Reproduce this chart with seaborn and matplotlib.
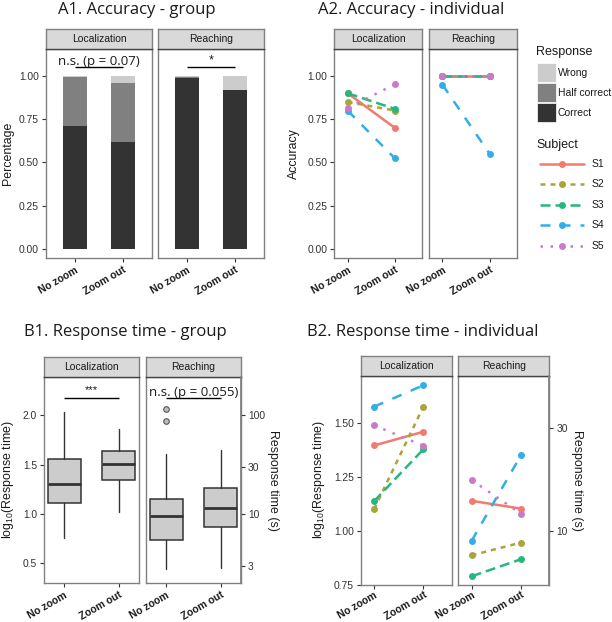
import matplotlib

matplotlib.use("Agg")
import matplotlib.pyplot as plt
import numpy as np
import pandas as pd
import seaborn as sns

W, H = 612, 622

TASKS = ["Localization", "Reaching"]
CONDITIONS = ["No zoom", "Zoom out"]
SUBJECTS = ["S1", "S2", "S3", "S4", "S5"]
RESPONSES = ["Wrong", "Half correct", "Correct"]

# A1: proportion of responses per condition (No zoom, Zoom out)
loc_correct = [0.713, 0.619]
loc_half = [0.281, 0.343]
loc_wrong = [0.006, 0.038]
rea_correct = [0.990, 0.919]
rea_half = [0.005, 0.000]
rea_wrong = [0.005, 0.081]

# A2: accuracy per subject (S1..S5)
acc_loc_nozoom = [0.90, 0.85, 0.90, 0.80, 0.815]
acc_loc_zoomout = [0.70, 0.80, 0.81, 0.524, 0.952]
acc_rea_nozoom = [1.00, 1.00, 1.00, 0.95, 1.00]
acc_rea_zoomout = [1.00, 1.00, 1.00, 0.549, 1.00]

# B1: log10 response time box stats (whislo, q1, med, q3, whishi)
rt_loc_nozoom = [0.758, 1.114, 1.304, 1.555, 2.034]
rt_loc_zoomout = [1.018, 1.348, 1.504, 1.636, 1.864]
rt_rea_nozoom = [0.438, 0.733, 0.978, 1.148, 1.609]
rt_rea_zoomout = [0.452, 0.873, 1.056, 1.267, 1.647]
rt_rea_nozoom_outliers = [2.064, 1.942]

# B2: mean log10 response time per subject
rt_subj_loc_nozoom = [1.395, 1.100, 1.137, 1.574, 1.488]
rt_subj_loc_zoomout = [1.458, 1.574, 1.377, 1.673, 1.394]
rt_subj_rea_nozoom = [1.139, 0.887, 0.790, 0.954, 1.235]
rt_subj_rea_zoomout = [1.103, 0.946, 0.869, 1.349, 1.080]

RESPONSE_COLORS = {"Wrong": "#cccccc", "Half correct": "#808080", "Correct": "#333333"}
SUBJECT_COLORS = dict(zip(SUBJECTS, ["#F27A6E", "#A8A53A", "#27B77E", "#31AEE8", "#C97AC8"]))
SUBJECT_DASHES = dict(zip(SUBJECTS, ["", (2, 2), (4, 2), (4, 4), (1, 3)]))
SUBJECT_MARKERS = dict(zip(SUBJECTS, ["o"] * 5))

TITLE_FONT = "Open Sans"
AXIS_FONT = "Liberation Sans"
BORDER = "#808080"
INK = "#333333"

sns.set_theme(style="white")
plt.rcParams["font.family"] = [AXIS_FONT, "DejaVu Sans"]
plt.rcParams["mathtext.default"] = "regular"

fig = plt.figure(figsize=(W / 100, H / 100), dpi=100)
fig.patch.set_facecolor("white")


def px_axes(x0, y0, x1, y1):
    return fig.add_axes([x0 / W, 1 - y1 / H, (x1 - x0) / W, (y1 - y0) / H])


def fig_text(x, y, s, **kw):
    fig.text(x / W, 1 - y / H, s, **kw)


def add_strip(x0, x1, y0, y1, label):
    s = px_axes(x0, y0, x1, y1)
    s.set_facecolor("#d9d9d9")
    s.set_xticks([])
    s.set_yticks([])
    for sp in s.spines.values():
        sp.set_color(BORDER)
        sp.set_linewidth(1.0)
    s.spines["bottom"].set_color("#444444")
    s.text(0.5, 0.5, label, ha="center", va="center", fontsize=7.5, color="#1a1a1a",
           transform=s.transAxes)


def style_panel(ax, xlim, ylim, yticks, ylabels, show_y, xpad=2):
    ax.set_facecolor("white")
    ax.set_xlim(*xlim)
    ax.set_ylim(*ylim)
    ax.grid(False)
    for sp in ax.spines.values():
        sp.set_visible(True)
        sp.set_color(BORDER)
        sp.set_linewidth(1.0)
    ax.set_xticks(range(len(CONDITIONS)))
    ax.set_xticklabels(CONDITIONS, rotation=30, ha="right", va="top", rotation_mode="anchor",
                       fontsize=7.5, fontweight="bold", color="#1a1a1a")
    ax.set_yticks(yticks)
    if show_y:
        ax.set_yticklabels(ylabels, fontsize=7.4, color=INK)
        ax.tick_params(axis="y", left=True, length=3, width=0.8, color=INK, pad=2)
    else:
        ax.set_yticklabels([])
        ax.tick_params(axis="y", left=False)
    ax.tick_params(axis="x", bottom=True, length=3, width=0.8, color=INK, pad=xpad)
    ax.set_xlabel("")
    ax.set_ylabel("")


def right_axis(ax, ticks, labels):
    ax2 = ax.twinx()
    ax2.set_ylim(ax.get_ylim())
    ax2.set_yticks(np.log10(ticks))
    ax2.set_yticklabels(labels, fontsize=7.4, color=INK)
    ax2.tick_params(axis="y", right=True, left=False, length=3, width=0.8, color=INK, pad=2)
    ax2.grid(False)
    for name, sp in ax2.spines.items():
        sp.set_visible(name == "right")
        sp.set_color(BORDER)
    # twinx moves the host ticks back to the left; this panel shows none there
    ax.tick_params(axis="y", left=False, right=False, labelleft=False)
    return ax2


def annotate(ax, x0, x1, y_line, text, y_text, size, font):
    ax.plot([x0, x1], [y_line, y_line], color="black", lw=1.0, solid_capstyle="butt")
    ax.text((x0 + x1) / 2, y_text, text, ha="center", va="baseline", fontsize=size,
            family=font, color="#1a1a1a")


# ---------------- A1: stacked bars ----------------
acc_ticks = [0, 0.25, 0.5, 0.75, 1.0]
acc_labels = ["0.00", "0.25", "0.50", "0.75", "1.00"]
acc_ylim = (-0.052, 1.156)

a1_panels = [(46, 152, loc_correct, loc_half, loc_wrong), (158, 264, rea_correct, rea_half, rea_wrong)]
for i, (x0, x1, cor, half, wrong) in enumerate(a1_panels):
    ax = px_axes(x0, 49, x1, 258)
    stacks = pd.DataFrame({"condition": CONDITIONS, "Correct": cor, "Half correct": half, "Wrong": wrong})
    stacks["top_half"] = stacks["Correct"] + stacks["Half correct"]
    stacks["top_wrong"] = stacks["top_half"] + stacks["Wrong"]
    for col, resp in [("top_wrong", "Wrong"), ("top_half", "Half correct"), ("Correct", "Correct")]:
        sns.barplot(data=stacks, x="condition", y=col, color=RESPONSE_COLORS[resp], saturation=1,
                    width=0.5, linewidth=0, ax=ax)
    style_panel(ax, (-0.6, 1.6), acc_ylim, acc_ticks, acc_labels, i == 0)
    add_strip(x0, x1, 29, 49, TASKS[i])
    if i == 0:
        annotate(ax, 0, 1, 1.052, "n.s. (p = 0.07)", 1.066, 9.5, TITLE_FONT)
    else:
        annotate(ax, 0, 1, 1.050, "*", 1.072, 9, AXIS_FONT)

# ---------------- A2: individual accuracy ----------------
a2_panels = [(334.3, 421.7, acc_loc_nozoom, acc_loc_zoomout), (429, 516.7, acc_rea_nozoom, acc_rea_zoomout)]
for i, (x0, x1, nz, zo) in enumerate(a2_panels):
    ax = px_axes(x0, 49, x1, 258)
    df = pd.DataFrame({
        "Subject": SUBJECTS * 2,
        "pos": [0] * 5 + [1] * 5,
        "acc": nz + zo,
    })
    sns.lineplot(data=df, x="pos", y="acc", hue="Subject", style="Subject", palette=SUBJECT_COLORS,
                 dashes=SUBJECT_DASHES, markers=SUBJECT_MARKERS, markersize=5, markeredgewidth=0,
                 linewidth=1.8, errorbar=None, legend=False, ax=ax)
    style_panel(ax, (-0.283, 1.568), acc_ylim, acc_ticks, acc_labels, i == 0)
    add_strip(x0, x1, 29, 49, TASKS[i])

# ---------------- B1: box plots ----------------
b1_ylim = (0.30, 2.39)
b1_panels = [(44, 139, rt_loc_nozoom, rt_loc_zoomout, [], []),
             (146, 241, rt_rea_nozoom, rt_rea_zoomout, rt_rea_nozoom_outliers, [])]
for i, (x0, x1, nz, zo, fl_nz, fl_zo) in enumerate(b1_panels):
    ax = px_axes(x0, 377, x1, 583)
    stats = []
    for vals, fl in [(nz, fl_nz), (zo, fl_zo)]:
        lo, q1, med, q3, hi = vals
        stats.append({"whislo": lo, "q1": q1, "med": med, "q3": q3, "whishi": hi, "fliers": fl})
    ax.bxp(stats, positions=[0, 1], widths=0.6, patch_artist=True, showcaps=False,
           boxprops=dict(facecolor="#cccccc", edgecolor=INK, linewidth=1.1),
           medianprops=dict(color=INK, linewidth=2.0),
           whiskerprops=dict(color=INK, linewidth=1.0),
           flierprops=dict(marker="o", markerfacecolor="#bdbdbd", markeredgecolor="#555555",
                           markersize=4, markeredgewidth=0.8))
    style_panel(ax, (-0.366, 1.366), b1_ylim, [0.5, 1.0, 1.5, 2.0], ["0.5", "1.0", "1.5", "2.0"], i == 0)
    add_strip(x0, x1, 357, 377, TASKS[i])
    if i == 0:
        annotate(ax, 0, 1, 2.18, "***", 2.225, 8, AXIS_FONT)
    else:
        annotate(ax, 0, 1, 2.18, "n.s. (p = 0.055)", 2.195, 9.5, TITLE_FONT)
        right_axis(ax, [3, 10, 30, 100], ["3", "10", "30", "100"])

# ---------------- B2: individual response time ----------------
b2_ylim = (0.75, 1.716)
b2_panels = [(360.7, 451.7, rt_subj_loc_nozoom, rt_subj_loc_zoomout),
             (458.3, 549.3, rt_subj_rea_nozoom, rt_subj_rea_zoomout)]
for i, (x0, x1, nz, zo) in enumerate(b2_panels):
    ax = px_axes(x0, 376, x1, 585)
    df = pd.DataFrame({
        "Subject": SUBJECTS * 2,
        "pos": [0] * 5 + [1] * 5,
        "rt": nz + zo,
    })
    sns.lineplot(data=df, x="pos", y="rt", hue="Subject", style="Subject", palette=SUBJECT_COLORS,
                 dashes=SUBJECT_DASHES, markers=SUBJECT_MARKERS, markersize=5, markeredgewidth=0,
                 linewidth=1.8, errorbar=None, legend=False, ax=ax)
    style_panel(ax, (-0.27, 1.576), b2_ylim, [0.75, 1.0, 1.25, 1.5],
                ["0.75", "1.00", "1.25", "1.50"], i == 0, xpad=0.5)
    add_strip(x0, x1, 355.7, 376, TASKS[i])
    if i == 1:
        right_axis(ax, [10, 30], ["10", "30"])

# ---------------- titles and axis labels ----------------
title_kw = dict(fontsize=12, family=TITLE_FONT, color="#1a1a1a", ha="left", va="baseline")
fig_text(58, 14, "A1. Accuracy - group", **title_kw)
fig_text(318, 14, "A2. Accuracy - individual", **title_kw)
fig_text(24, 336, "B1. Response time - group", **title_kw)
fig_text(307, 336, "B2. Response time - individual", **title_kw)

lab_kw = dict(fontsize=8.9, color="#1a1a1a", ha="center", va="center")
fig_text(8, 153.5, "Percentage", rotation=90, **lab_kw)
fig_text(294, 153.5, "Accuracy", rotation=90, **lab_kw)
fig_text(8, 480, "log$_{10}$(Response time)", rotation=90, **lab_kw)
fig_text(319, 480, "log$_{10}$(Response time)", rotation=90, **lab_kw)
fig_text(273, 480, "Response time (s)", rotation=270, **lab_kw)
fig_text(577, 480, "Response time (s)", rotation=270, **lab_kw)

# ---------------- legends ----------------
leg = px_axes(530, 40, 612, 255)
leg.set_xlim(530, 612)
leg.set_ylim(255, 40)
leg.axis("off")
leg.text(536, 52.5, "Response", fontsize=9, va="center", ha="left", color="#1a1a1a")
for k, resp in enumerate(RESPONSES):
    yc = 72.5 + 20 * k
    leg.add_patch(plt.Rectangle((536.5, yc - 9.5), 19, 19, facecolor=RESPONSE_COLORS[resp],
                                edgecolor="white", linewidth=0.5))
    leg.text(558, yc, resp, fontsize=7.5, va="center", ha="left", color="#1a1a1a")
leg.text(536, 145, "Subject", fontsize=9, va="center", ha="left", color="#1a1a1a")
for k, subj in enumerate(SUBJECTS):
    yc = 164 + 20.4 * k
    line = leg.plot([540, 584], [yc, yc], color=SUBJECT_COLORS[subj], lw=1.8)[0]
    if SUBJECT_DASHES[subj]:
        line.set_dashes(SUBJECT_DASHES[subj])
    leg.plot([562], [yc], marker="o", markersize=5, markeredgewidth=0, color=SUBJECT_COLORS[subj])
    leg.text(592, yc, subj, fontsize=7.5, va="center", ha="left", color="#1a1a1a")

fig.savefig("out.png", dpi=100, facecolor="white")
